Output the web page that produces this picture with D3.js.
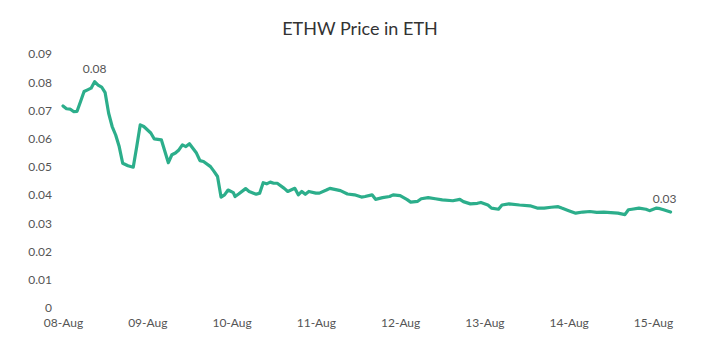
<!DOCTYPE html>
<html>
<head>
<meta charset="utf-8">
<script src="https://cdn.jsdelivr.net/npm/d3@7"></script>
<style>
  body { margin: 0; background: #fff; }
  svg { display: block; font-family: Lato, "Open Sans", sans-serif; }
</style>
</head>
<body>
<div id="chart"></div>
<script>
// hours since 08-Aug 00:00 (UTC) and price of ETHW in ETH
var hours = [0, 1, 2, 3, 4, 5, 6, 7, 8, 9, 10, 11, 12, 13, 14, 15, 16, 17, 18.5, 20,
    21, 22, 23, 25, 26, 28, 30, 31, 32, 33, 34, 35, 36, 38, 39, 40, 42, 43, 44, 45,
    46, 47, 48.5, 49, 50, 52, 53, 55, 56, 57, 58, 59, 60, 61, 63, 64, 66, 67, 68, 69,
    70, 72, 73, 75, 76, 79, 81, 83, 85, 86, 88, 89, 91, 93, 94, 96, 98, 99, 101, 102,
    104, 106, 108, 111, 113, 114, 116, 118, 119, 121, 122, 124, 125, 127, 130, 133, 135, 137, 139, 141,
    142, 144, 146, 148, 150, 152, 154, 156, 158, 160, 161, 162, 164, 166, 167, 169, 170, 171, 173];
var price = [0.0716, 0.0706, 0.0705, 0.0696, 0.0697, 0.0732, 0.0767, 0.0773, 0.0779, 0.0802, 0.0790, 0.0783, 0.0763, 0.0690, 0.0643, 0.0613, 0.0572, 0.0513, 0.0504, 0.0499,
    0.0572, 0.0649, 0.0643, 0.0620, 0.0599, 0.0596, 0.0515, 0.0543, 0.0549, 0.0560, 0.0578, 0.0572, 0.0582, 0.0549, 0.0522, 0.0519, 0.0501, 0.0484, 0.0466, 0.0393,
    0.0401, 0.0418, 0.0409, 0.0395, 0.0404, 0.0423, 0.0413, 0.0403, 0.0407, 0.0444, 0.0440, 0.0446, 0.0442, 0.0442, 0.0424, 0.0413, 0.0424, 0.0401, 0.0413, 0.0403,
    0.0413, 0.0407, 0.0407, 0.0418, 0.0424, 0.0416, 0.0404, 0.0401, 0.0393, 0.0395, 0.0401, 0.0385, 0.0391, 0.0395, 0.0401, 0.0398, 0.0384, 0.0375, 0.0378, 0.0387,
    0.0391, 0.0387, 0.0383, 0.0380, 0.0385, 0.0377, 0.0369, 0.0371, 0.0374, 0.0365, 0.0354, 0.0350, 0.0365, 0.0369, 0.0365, 0.0362, 0.0354, 0.0354, 0.0357, 0.0359,
    0.0354, 0.0345, 0.0336, 0.0340, 0.0342, 0.0339, 0.0340, 0.0338, 0.0336, 0.0331, 0.0348, 0.0350, 0.0354, 0.0350, 0.0345, 0.0354, 0.0352, 0.0348, 0.0340];

var yTicks = [0, 0.01, 0.02, 0.03, 0.04, 0.05, 0.06, 0.07, 0.08, 0.09];
var dayLabels = ["08-Aug", "09-Aug", "10-Aug", "11-Aug", "12-Aug", "13-Aug", "14-Aug", "15-Aug"];
var annotations = [{ i: 9, text: "0.08" }, { i: price.length - 1, text: "0.03" }];

var width = 719, height = 344;
var start = Date.UTC(2022, 7, 8);
var day = 24 * 3600 * 1000;

var data = hours.map(function (h, i) {
    return { date: new Date(start + h * 3600 * 1000), value: price[i] };
});

var svg = d3.select("#chart").append("svg")
    .attr("width", width)
    .attr("height", height);

var x = d3.scaleUtc()
    .domain([new Date(start), new Date(start + 7 * day)])
    .range([63, 653]);

var y = d3.scaleLinear()
    .domain([0, 0.09])
    .range([308, 54]);

svg.append("text")
    .attr("x", 360)
    .attr("y", 35)
    .attr("text-anchor", "middle")
    .attr("font-size", 18)
    .attr("fill", "#333")
    .text("ETHW Price in ETH");

// y axis: labels only
var yAxis = svg.append("g")
    .attr("transform", "translate(52,0)")
    .call(d3.axisLeft(y)
        .tickValues(yTicks)
        .tickSize(0)
        .tickPadding(0)
        .tickFormat(function (d) { return d === 0 ? "0" : d3.format(".2f")(d); }));
yAxis.select(".domain").remove();
yAxis.selectAll("text")
    .attr("font-family", "Lato, sans-serif")
    .attr("font-size", 12)
    .attr("fill", "#555");

// x axis: day labels only
var xAxis = svg.append("g")
    .attr("transform", "translate(0,318)")
    .call(d3.axisBottom(x)
        .tickValues(dayLabels.map(function (d, i) { return new Date(start + i * day); }))
        .tickSize(0)
        .tickPadding(0)
        .tickFormat(function (d, i) { return dayLabels[i]; }));
xAxis.select(".domain").remove();
xAxis.selectAll("text")
    .attr("font-family", "Lato, sans-serif")
    .attr("font-size", 12)
    .attr("fill", "#555");

var line = d3.line()
    .x(function (d) { return x(d.date); })
    .y(function (d) { return y(d.value); });

svg.append("path")
    .datum(data)
    .attr("fill", "none")
    .attr("stroke", "#2cae8b")
    .attr("stroke-width", 3.2)
    .attr("stroke-linejoin", "round")
    .attr("stroke-linecap", "round")
    .attr("d", line);

svg.selectAll(".anno")
    .data(annotations)
    .enter().append("text")
    .attr("class", "anno")
    .attr("x", function (d) { return x(data[d.i].date) - (d.i === 9 ? 0 : 6); })
    .attr("y", function (d) { return y(data[d.i].value) - 9; })
    .attr("text-anchor", "middle")
    .attr("font-size", 12)
    .attr("fill", "#555")
    .text(function (d) { return d.text; });
</script>
</body>
</html>
